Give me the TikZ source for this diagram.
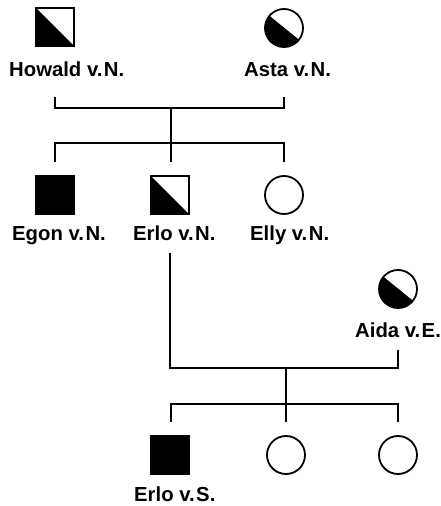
\documentclass[tikz,border=0pt]{standalone}
\usepackage{fontspec}
\setmainfont{Liberation Sans}
\newcommand{\vd}{v.\kern1.5pt}
\begin{document}
\begin{tikzpicture}[x=1pt,y=-1pt,
  lab/.style={anchor=base west,inner sep=0pt,font=\fontsize{20.3}{23}\selectfont\bfseries},
  male/.style={draw,rectangle,minimum size=38pt,inner sep=0pt,line width=1.8pt},
  female/.style={draw,circle,minimum size=38pt,inner sep=0pt,line width=1.8pt},
  aff/.style={fill=black},
  carM/.style={path picture={\fill (path picture bounding box.north west) -- (path picture bounding box.south west) -- (path picture bounding box.south east) -- cycle;}},
  carF/.style={path picture={\fill ([shift={(140:19pt)}]path picture bounding box.center) arc[start angle=140,end angle=322,radius=19pt] -- cycle;}},
  conn/.style={line width=1.5pt}
]
\useasboundingbox (0,0) rectangle (440,506);
% generation I
\node[male,carM] (howald) at (55,27) {};
\node[female,carF] (asta) at (284,28) {};
\node[lab] (howaldL) at (9,76) {Howald \vd N.};
\node[lab] (astaL) at (244,76) {Asta \vd N.};
% generation II
\node[male,aff] (egon) at (55,195) {};
\node[male,carM] (erlo) at (170,195) {};
\node[female] (elly) at (284,195) {};
\node[lab] (egonL) at (12,240) {Egon \vd N.};
\node[lab] (erloL) at (133,240) {Erlo \vd N.};
\node[lab] (ellyL) at (250,240) {Elly \vd N.};
\node[female,carF] (aida) at (398,289) {};
\node[lab] (aidaL) at (355,337) {Aida \vd E.};
% generation III
\node[male,aff] (erlos) at (170,455) {};
\node[female] (d1) at (286,455) {};
\node[female] (d2) at (398,455) {};
\node[lab] (erlosL) at (134,501) {Erlo \vd S.};
% coordinates
\coordinate (a1) at (55,97);
\coordinate (a2) at (284,97);
\coordinate (m1) at (171,108);
\coordinate (s1) at (171,143);
\coordinate (c1) at (55,162);
\coordinate (c2) at (171,162);
\coordinate (c3) at (284,162);
\coordinate (b1) at (170,253);
\coordinate (b2) at (398,350);
\coordinate (m2) at (286,368);
\coordinate (s2) at (286,404);
\coordinate (e1) at (171,422);
\coordinate (e2) at (286,422);
\coordinate (e3) at (398,422);
% connectors
\draw[conn] (a1) |- (m1) -| (a2);
\draw[conn] (m1) -- (c2);
\draw[conn] (c1) |- (s1) -| (c3);
\draw[conn] (b1) |- (m2) -| (b2);
\draw[conn] (m2) -- (e2);
\draw[conn] (e1) |- (s2) -| (e3);
\end{tikzpicture}
\end{document}
